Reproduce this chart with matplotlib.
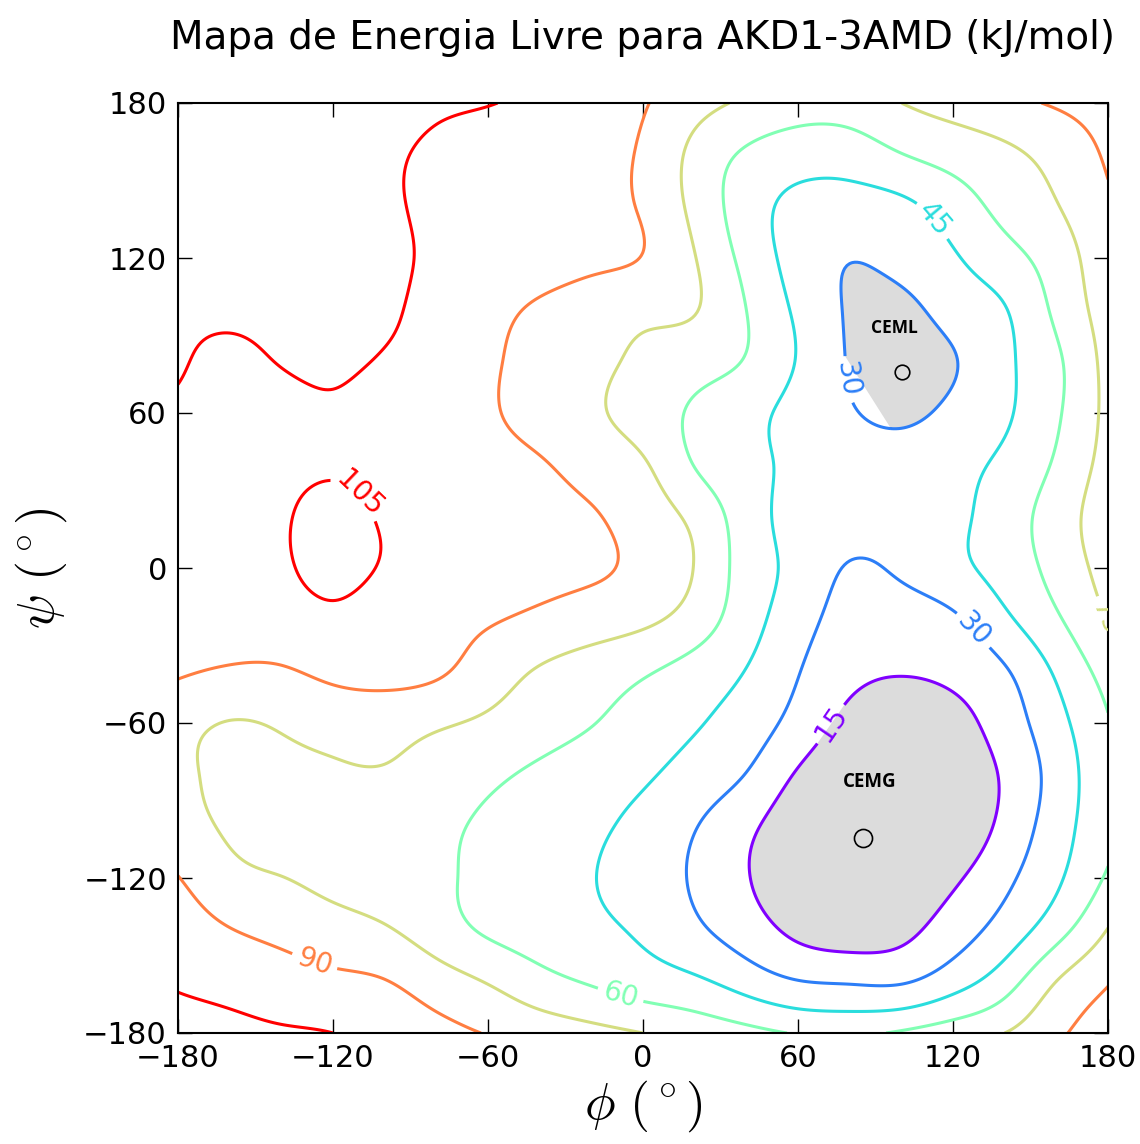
import numpy as np
import matplotlib
matplotlib.use('Agg')
import matplotlib.pyplot as plt

plt.rcParams['mathtext.fontset'] = 'cm'

# grade de energia livre (kJ/mol), passo de 20 graus
phi = np.arange(-180, 181, 20)
psi = np.arange(-180, 181, 20)

# linhas de psi = -180 ... 180, colunas de phi = -180 ... 180
energia = np.array([
    [109, 108, 106.5, 105, 99.7, 94.5, 89.3, 84.5, 79.8, 75, 69.7, 64.5, 59, 57.5, 61.7, 68.3, 75, 87.5, 97],
    [104, 101, 97, 93.2, 90.5, 82.3, 74, 64.8, 58.5, 52.5, 47.5, 38.5, 30.5, 28.5, 28.5, 38.6, 53.2, 75, 89],
    [99, 90.5, 85.6, 81, 76.4, 67, 58.1, 53.3, 48.5, 42.5, 32.8, 22.3, 11.5, 7.5, 11, 22.4, 36, 54, 75.5],
    [90.5, 79, 75.3, 71, 67, 62.5, 56.3, 51, 45.7, 37.5, 28.4, 16, 5, 1.5, 4, 12.5, 26.5, 42.5, 62],
    [80, 73.5, 70.5, 69, 66, 63, 57.6, 52.7, 47.8, 40.7, 30.7, 18.5, 6, 0.5, 0.5, 4.5, 19, 38, 56.5],
    [78, 72, 72, 73.3, 73.8, 69, 63, 57.3, 52.2, 47, 39.2, 29.5, 13.5, 4, 1.5, 5.5, 17, 36, 56.5],
    [80, 74.5, 76.5, 80, 80.5, 77, 72.5, 66.5, 60.6, 53.6, 46.4, 38, 24.5, 11, 6, 10, 22, 40, 59],
    [91.5, 88.5, 88.5, 93.5, 95, 92, 82.7, 73.7, 67.9, 61.8, 54.1, 44.5, 30.7, 19, 15.8, 18.5, 28.5, 47, 66],
    [95, 96.5, 99, 102.5, 99, 95, 91.3, 87, 82.6, 78, 68, 51.3, 36, 24, 22, 27.5, 42, 58, 75.5],
    [97.5, 100.5, 103.5, 108, 104, 100, 97, 94, 92, 86.5, 74.5, 53.5, 40.5, 29, 32.5, 41, 51, 65, 81],
    [98, 101, 104, 107.5, 104, 101, 97.7, 94.5, 91.2, 83.3, 71, 52.3, 40, 36.5, 36.5, 41.5, 52.5, 67, 84],
    [99, 100, 102.5, 104, 102, 98, 94.5, 91.2, 84.5, 76.7, 59.5, 49.5, 41.5, 38, 38, 41, 48, 62, 81],
    [103, 101, 101.5, 103.5, 100, 96, 91.5, 85, 77.6, 68.5, 58, 50, 40, 31.5, 26.5, 34, 43, 58, 79],
    [106, 103, 105.5, 107, 104, 99.5, 92, 85.5, 79, 72, 66, 59, 44, 29, 23, 29, 42, 57.5, 80],
    [107, 107, 108, 108.5, 106.5, 101.5, 94.6, 88, 83, 78.5, 75.7, 60, 42.3, 28.5, 26, 36, 44.3, 63, 82],
    [110, 111, 111, 109.5, 107, 103.4, 100, 96.5, 93, 89.5, 75.5, 55.5, 39, 30.5, 35, 43.5, 54.3, 67.4, 85],
    [112, 112.5, 112, 110, 106.5, 103, 99.5, 96, 93.5, 88.5, 71, 52.5, 41, 39, 42, 52, 64.5, 74.3, 88],
    [112, 113, 113, 111, 107, 103, 99.4, 95.9, 93, 88.3, 71, 58, 52, 52, 59.5, 66, 72, 80, 92],
    [112, 113, 113, 112, 110, 107, 105.5, 101.5, 96.2, 91, 81, 72.5, 67, 68, 75, 80.5, 86, 91.5, 96],
])

niveis = [15, 30, 45, 60, 75, 90, 105]
posicoes_rotulos = [(-112, 27), (-127, -152), (178, -20), (-8, -163),
                    (109, 132), (80, 73), (128, -24), (72, -60)]

minimos_nomes = ['CEML', 'CEMG']
minimos_texto = [(97.5, 92.9), (87.9, -82.8)]
minimos_ponto = [(100.3, 75.9), (85.2, -104.5)]
minimos_nivel = [30, 15]
minimos_fonte = [12.5, 13.5]
minimos_marca = [10.5, 13]


def matriz_spline(n, n_out):
    # spline cubica natural em nos uniformes, escrita como matriz (n_out x n)
    A = np.zeros((n, n))
    B = np.zeros((n, n))
    A[0, 0] = A[-1, -1] = 1
    for k in range(1, n - 1):
        A[k, k - 1:k + 2] = [1, 4, 1]
        B[k, k - 1:k + 2] = [6, -12, 6]
    D2 = np.linalg.solve(A, B)
    t = np.linspace(0, n - 1, n_out)
    i = np.clip(np.floor(t).astype(int), 0, n - 2)
    u = (t - i)[:, None]
    I = np.eye(n)
    return ((1 - u)**3 / 6 * D2[i] + u**3 / 6 * D2[i + 1]
            + (1 - u) * (I[i] - D2[i] / 6) + u * (I[i + 1] - D2[i + 1] / 6))


n_fino = 361
Z = matriz_spline(len(psi), n_fino) @ energia @ matriz_spline(len(phi), n_fino).T
X, Y = np.meshgrid(np.linspace(-180, 180, n_fino), np.linspace(-180, 180, n_fino))

fig = plt.figure(figsize=(11.4, 11.44), dpi=100)
ax = fig.add_axes([178/1140, 1 - 1033/1144, 930/1140, 930/1144])

cs = ax.contour(X, Y, Z, levels=niveis, cmap='rainbow', linewidths=2.2)
ax.clabel(cs, fmt='%d', fontsize=20, manual=posicoes_rotulos, inline_spacing=6)

# preenche as bacias dos minimos com cinza, usando o contorno ja cortado pelos rotulos
for nivel, ponto in zip(minimos_nivel, minimos_ponto):
    caminho = cs.get_paths()[niveis.index(nivel)]
    partes = caminho.to_polygons(closed_only=False)
    dist = [np.hypot(*(p.mean(axis=0) - np.array(ponto))) for p in partes]
    p = partes[int(np.argmin(dist))]
    ax.fill(p[:, 0], p[:, 1], color='#dcdcdc', lw=0, zorder=1)

for nome, (tx, ty), (px, py), fs, ms in zip(minimos_nomes, minimos_texto, minimos_ponto,
                                             minimos_fonte, minimos_marca):
    ax.text(tx, ty, nome, ha='center', va='center', fontsize=fs,
            fontweight='bold', family='Open Sans', zorder=4)
    ax.plot(px, py, 'o', ms=ms, mfc='none', mec='black', mew=1.2, zorder=4)

ax.set_xlim(-180, 180)
ax.set_ylim(-180, 180)
ticks = [-180, -120, -60, 0, 60, 120, 180]
ax.set_xticks(ticks)
ax.set_yticks(ticks)
ax.tick_params(direction='in', top=True, right=True, length=10, width=1,
               labelsize=22, pad=8)
for s in ax.spines.values():
    s.set_linewidth(1.5)

ax.set_xlabel(r'$\phi\ (^\circ)$', fontsize=37, labelpad=4)
ax.set_ylabel(r'$\psi\ (^\circ)$', fontsize=37, labelpad=10)
ax.set_title('Mapa de Energia Livre para AKD1-3AMD (kJ/mol)', fontsize=28, pad=39)

fig.savefig('out.png', dpi=100)
